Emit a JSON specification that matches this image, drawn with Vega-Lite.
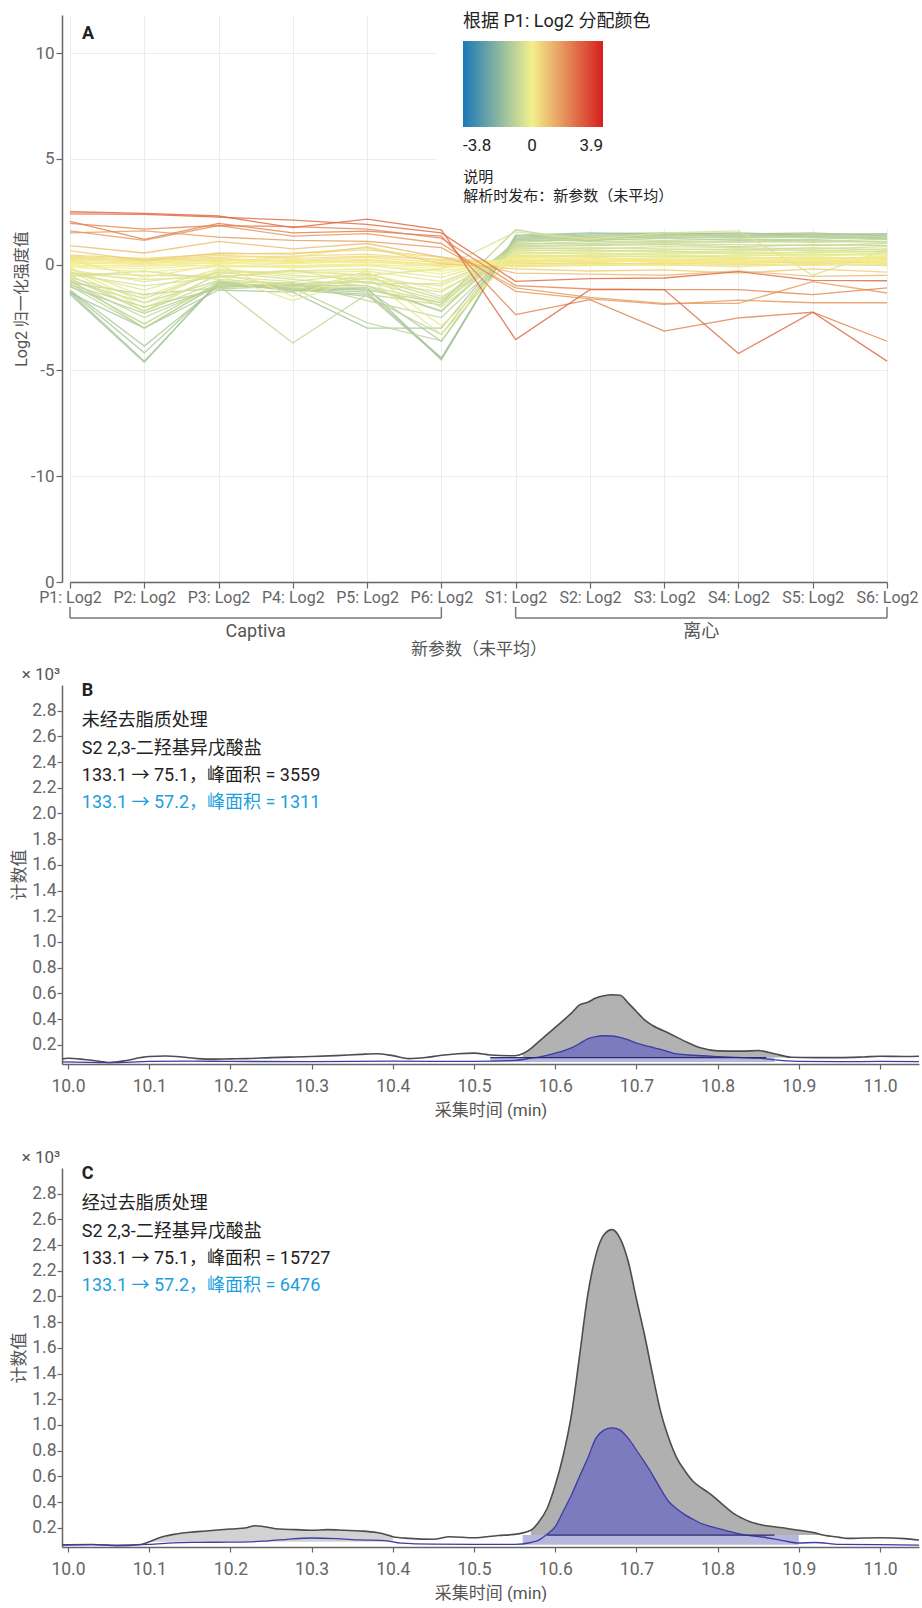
{
  "$schema": "https://vega.github.io/schema/vega-lite/v6.json",
  "background": "white",
  "padding": {"left": 10, "top": 13, "right": 0, "bottom": 0},
  "spacing": 9,
  "config": {
    "font": "Roboto, 'Noto Sans CJK SC', sans-serif",
    "view": {"stroke": null},
    "axis": {
      "titleFontWeight": "normal",
      "labelColor": "#666",
      "titleColor": "#555",
      "domainColor": "#666",
      "tickColor": "#666",
      "domainWidth": 1.5,
      "tickWidth": 1.2,
      "labelOverlap": false
    },
    "title": {"fontWeight": "normal"}
  },
  "datasets": {
    "compounds": [
      {"cmp": "t1", "P1": -1.20, "P2": -3.85, "P3": -1.00, "P4": -1.10, "P5": -1.20, "P6": -3.62, "S1": 1.25, "S2": 1.35, "S3": 1.40, "S4": 1.35, "S5": 1.40, "S6": 1.40},
      {"cmp": "t2", "P1": -1.25, "P2": -4.17, "P3": -0.90, "P4": -1.15, "P5": -1.30, "P6": -4.40, "S1": 1.30, "S2": 1.40, "S3": 1.45, "S4": 1.40, "S5": 1.45, "S6": 1.45},
      {"cmp": "t3", "P1": -1.30, "P2": -4.56, "P3": -0.85, "P4": -1.25, "P5": -1.10, "P6": -4.50, "S1": 1.35, "S2": 1.45, "S3": 1.50, "S4": 1.45, "S5": 1.50, "S6": 1.35},
      {"cmp": "t4", "P1": -1.40, "P2": -4.62, "P3": -0.80, "P4": -1.20, "P5": -1.40, "P6": -4.45, "S1": 1.40, "S2": 1.50, "S3": 1.45, "S4": 1.50, "S5": 1.40, "S6": 1.45},
      {"cmp": "t5", "P1": -1.35, "P2": -3.00, "P3": -1.20, "P4": -1.30, "P5": -3.00, "P6": -3.00, "S1": 1.20, "S2": 1.25, "S3": 1.30, "S4": 1.30, "S5": 1.35, "S6": 1.25},
      {"cmp": "n1", "P1": -0.65, "P2": -2.20, "P3": -0.80, "P4": -0.90, "P5": -0.80, "P6": -1.70, "S1": 0.90, "S2": 0.95, "S3": 1.00, "S4": 0.95, "S5": 0.90, "S6": 1.00},
      {"cmp": "n2", "P1": -0.70, "P2": -3.00, "P3": -0.90, "P4": -1.00, "P5": -1.10, "P6": -2.20, "S1": 0.95, "S2": 1.10, "S3": 1.05, "S4": 1.10, "S5": 1.05, "S6": 1.10},
      {"cmp": "n3", "P1": -0.75, "P2": -1.80, "P3": -0.75, "P4": -1.20, "P5": -0.60, "P6": -1.60, "S1": 1.00, "S2": 1.00, "S3": 1.10, "S4": 1.05, "S5": 1.15, "S6": 1.05},
      {"cmp": "n4", "P1": -0.80, "P2": -2.50, "P3": -1.00, "P4": -3.70, "P5": -1.40, "P6": -1.90, "S1": 1.05, "S2": 1.20, "S3": 1.15, "S4": 1.20, "S5": 1.10, "S6": 1.20},
      {"cmp": "n5", "P1": -0.85, "P2": -1.40, "P3": -1.10, "P4": -0.85, "P5": -1.70, "P6": -2.50, "S1": 0.85, "S2": 0.90, "S3": 0.95, "S4": 0.85, "S5": 0.95, "S6": 0.90},
      {"cmp": "n6", "P1": -0.90, "P2": -2.80, "P3": -0.85, "P4": -1.10, "P5": -2.75, "P6": -3.60, "S1": 1.10, "S2": 1.25, "S3": 1.30, "S4": 1.25, "S5": 1.30, "S6": 1.25},
      {"cmp": "n7", "P1": -0.95, "P2": -2.00, "P3": -1.15, "P4": -1.00, "P5": -1.20, "P6": -1.80, "S1": 1.65, "S2": 1.10, "S3": 1.50, "S4": 1.30, "S5": 1.40, "S6": 1.20},
      {"cmp": "n8", "P1": -1.00, "P2": -3.00, "P3": -0.95, "P4": -1.15, "P5": -1.50, "P6": -3.30, "S1": 1.20, "S2": 1.30, "S3": 1.35, "S4": 1.40, "S5": 1.30, "S6": 1.35},
      {"cmp": "n9", "P1": -1.05, "P2": -2.30, "P3": -1.05, "P4": -0.95, "P5": -1.00, "P6": -2.20, "S1": 1.15, "S2": 1.15, "S3": 1.25, "S4": 1.15, "S5": 1.20, "S6": 1.30},
      {"cmp": "lg", "P1": -0.40, "P2": -0.70, "P3": -0.60, "P4": -0.30, "P5": -0.50, "P6": -0.20, "S1": 1.55, "S2": 1.20, "S3": 1.50, "S4": 1.60, "S5": -0.50, "S6": 0.70},
      {"cmp": "g1", "P1": -0.15, "P2": -1.50, "P3": -0.30, "P4": -0.40, "P5": -0.30, "P6": -0.80, "S1": 0.45, "S2": 0.40, "S3": 0.35, "S4": 0.45, "S5": 0.40, "S6": 0.50},
      {"cmp": "g2", "P1": -0.20, "P2": -1.80, "P3": -0.25, "P4": -0.60, "P5": -0.45, "P6": -1.20, "S1": 0.50, "S2": 0.55, "S3": 0.45, "S4": 0.40, "S5": 0.50, "S6": 0.45},
      {"cmp": "g3", "P1": -0.25, "P2": -0.80, "P3": -0.40, "P4": -0.30, "P5": -0.20, "P6": -0.60, "S1": 0.40, "S2": 0.45, "S3": 0.50, "S4": 0.55, "S5": 0.45, "S6": 0.55},
      {"cmp": "g4", "P1": -0.30, "P2": -2.05, "P3": -0.50, "P4": -1.70, "P5": -0.60, "P6": -3.30, "S1": 0.60, "S2": 0.50, "S3": 0.55, "S4": 0.60, "S5": 0.55, "S6": 0.65},
      {"cmp": "g5", "P1": -0.35, "P2": -1.20, "P3": -0.20, "P4": -0.50, "P5": -0.70, "P6": -1.00, "S1": 0.55, "S2": 0.60, "S3": 0.65, "S4": 0.50, "S5": 0.60, "S6": 0.60},
      {"cmp": "g6", "P1": -0.40, "P2": -0.50, "P3": -0.55, "P4": -0.80, "P5": -0.40, "P6": -1.50, "S1": 0.35, "S2": 0.40, "S3": 0.40, "S4": 0.35, "S5": 0.30, "S6": 0.35},
      {"cmp": "g7", "P1": -0.45, "P2": -1.00, "P3": -0.60, "P4": -0.25, "P5": -0.90, "P6": -0.90, "S1": 0.65, "S2": 0.70, "S3": 0.60, "S4": 0.65, "S5": 0.70, "S6": 0.60},
      {"cmp": "g8", "P1": -0.50, "P2": -2.20, "P3": -0.45, "P4": -1.10, "P5": -0.50, "P6": -2.00, "S1": 0.70, "S2": 0.65, "S3": 0.70, "S4": 0.75, "S5": 0.65, "S6": 0.75},
      {"cmp": "g9", "P1": -0.55, "P2": -0.30, "P3": -0.70, "P4": -0.90, "P5": -0.80, "P6": -1.30, "S1": 0.75, "S2": 0.80, "S3": 0.75, "S4": 0.70, "S5": 0.80, "S6": 0.70},
      {"cmp": "g10", "P1": -0.60, "P2": -1.60, "P3": -0.35, "P4": -0.70, "P5": -1.00, "P6": -1.80, "S1": 0.80, "S2": 0.75, "S3": 0.85, "S4": 0.80, "S5": 0.75, "S6": 0.85},
      {"cmp": "y1", "P1": 0.45, "P2": 0.30, "P3": 0.50, "P4": 0.55, "P5": 0.70, "P6": 0.35, "S1": 0.05, "S2": 0.10, "S3": 0.00, "S4": 0.15, "S5": 0.05, "S6": -0.05},
      {"cmp": "y2", "P1": 0.40, "P2": 0.25, "P3": 0.35, "P4": 0.40, "P5": 0.50, "P6": 0.20, "S1": 0.10, "S2": 0.00, "S3": 0.10, "S4": 0.05, "S5": 0.15, "S6": 0.10},
      {"cmp": "y3", "P1": 0.35, "P2": 0.15, "P3": 0.45, "P4": 0.30, "P5": 0.40, "P6": 0.25, "S1": -0.05, "S2": 0.05, "S3": 0.05, "S4": 0.00, "S5": 0.00, "S6": 0.20},
      {"cmp": "y4", "P1": 0.30, "P2": 0.20, "P3": 0.25, "P4": 0.20, "P5": 0.35, "P6": 0.10, "S1": 0.20, "S2": 0.15, "S3": 0.20, "S4": 0.10, "S5": 0.25, "S6": 0.05},
      {"cmp": "y5", "P1": 0.25, "P2": 0.10, "P3": 0.30, "P4": 0.15, "P5": 0.25, "P6": 0.00, "S1": 0.15, "S2": 0.20, "S3": 0.15, "S4": 0.25, "S5": 0.10, "S6": 0.25},
      {"cmp": "y6", "P1": 0.20, "P2": 0.30, "P3": 0.15, "P4": 0.35, "P5": 0.85, "P6": 0.15, "S1": -0.10, "S2": -0.05, "S3": 0.00, "S4": -0.10, "S5": 0.05, "S6": 0.00},
      {"cmp": "y7", "P1": 0.15, "P2": 0.05, "P3": 0.20, "P4": 0.10, "P5": 0.20, "P6": -0.05, "S1": 0.25, "S2": 0.10, "S3": 0.20, "S4": 0.20, "S5": 0.15, "S6": 0.30},
      {"cmp": "y8", "P1": 0.10, "P2": 0.00, "P3": 0.10, "P4": 0.05, "P5": 0.15, "P6": -0.10, "S1": 0.05, "S2": 0.25, "S3": 0.10, "S4": 0.05, "S5": 0.20, "S6": 0.15},
      {"cmp": "y9", "P1": 0.05, "P2": 0.15, "P3": 0.05, "P4": 0.25, "P5": 0.10, "P6": 0.05, "S1": 0.00, "S2": 0.00, "S3": -0.05, "S4": 0.10, "S5": -0.05, "S6": 0.10},
      {"cmp": "y10", "P1": 0.00, "P2": -0.10, "P3": 0.10, "P4": -0.05, "P5": 0.05, "P6": -0.20, "S1": 0.30, "S2": 0.20, "S3": 0.25, "S4": 0.30, "S5": 0.20, "S6": 0.35},
      {"cmp": "y11", "P1": -0.05, "P2": -0.20, "P3": 0.00, "P4": -0.15, "P5": -0.05, "P6": -0.30, "S1": 0.20, "S2": 0.30, "S3": 0.15, "S4": 0.15, "S5": 0.30, "S6": 0.20},
      {"cmp": "y12", "P1": -0.10, "P2": -0.35, "P3": -0.10, "P4": -0.10, "P5": 0.00, "P6": -0.45, "S1": 0.35, "S2": 0.25, "S3": 0.30, "S4": 0.35, "S5": 0.25, "S6": 0.40},
      {"cmp": "y13", "P1": 0.20, "P2": -0.60, "P3": 0.00, "P4": -1.50, "P5": -0.30, "P6": -2.90, "S1": 0.40, "S2": 0.35, "S3": 0.20, "S4": 0.30, "S5": 0.35, "S6": 0.30},
      {"cmp": "o2", "P1": 0.65, "P2": 0.20, "P3": 0.55, "P4": 0.50, "P5": 0.80, "P6": 0.05, "S1": -0.20, "S2": -0.30, "S3": -0.25, "S4": -0.40, "S5": -0.20, "S6": -0.35},
      {"cmp": "o1", "P1": 0.90, "P2": 0.55, "P3": 1.10, "P4": 0.75, "P5": 1.00, "P6": 0.35, "S1": -0.40, "S2": -0.45, "S3": -0.50, "S4": -0.30, "S5": -0.55, "S6": -0.50},
      {"cmp": "r6", "P1": 1.50, "P2": 1.60, "P3": 1.30, "P4": 1.15, "P5": 1.10, "P6": 0.80, "S1": -1.10, "S2": -1.55, "S3": -1.83, "S4": -1.83, "S5": -0.80, "S6": -1.34},
      {"cmp": "r5", "P1": 1.60, "P2": 1.15, "P3": 1.85, "P4": 1.35, "P5": 1.47, "P6": 1.00, "S1": -1.26, "S2": -1.62, "S3": -1.88, "S4": -1.68, "S5": -1.80, "S6": -1.80},
      {"cmp": "r4", "P1": 1.95, "P2": 1.68, "P3": 1.85, "P4": 1.80, "P5": 1.68, "P6": 1.25, "S1": -0.99, "S2": -1.15, "S3": -1.18, "S4": -1.18, "S5": -1.42, "S6": -1.10},
      {"cmp": "r3", "P1": 2.05, "P2": 1.20, "P3": 1.95, "P4": 1.50, "P5": 1.58, "P6": 1.35, "S1": -2.36, "S2": -1.65, "S3": -3.14, "S4": -2.52, "S5": -2.25, "S6": -3.62},
      {"cmp": "r2", "P1": 2.40, "P2": 2.38, "P3": 2.25, "P4": 2.10, "P5": 1.90, "P6": 1.50, "S1": -0.79, "S2": -0.66, "S3": -0.63, "S4": -0.33, "S5": -0.74, "S6": -0.76},
      {"cmp": "r1", "P1": 2.50, "P2": 2.42, "P3": 2.30, "P4": 1.75, "P5": 2.15, "P6": 1.65, "S1": -3.54, "S2": -1.18, "S3": -1.18, "S4": -4.20, "S5": -2.25, "S6": -4.56}
    ],
    "groups": [
      {"group": "Captiva", "first": "P1", "last": "P6"},
      {"group": "离心", "first": "S1", "last": "S6"}
    ],
    "bQuant": [
      {"t": 9.993, "c": 0.09}, {"t": 10.0, "c": 0.095}, {"t": 10.02, "c": 0.085}, {"t": 10.04, "c": 0.07}, {"t": 10.05, "c": 0.062},
      {"t": 10.07, "c": 0.075}, {"t": 10.09, "c": 0.1}, {"t": 10.1, "c": 0.108}, {"t": 10.12, "c": 0.112}, {"t": 10.14, "c": 0.105},
      {"t": 10.16, "c": 0.092}, {"t": 10.18, "c": 0.088}, {"t": 10.2, "c": 0.09}, {"t": 10.22, "c": 0.092}, {"t": 10.25, "c": 0.1},
      {"t": 10.28, "c": 0.105}, {"t": 10.3, "c": 0.108}, {"t": 10.33, "c": 0.115}, {"t": 10.36, "c": 0.125}, {"t": 10.38, "c": 0.13},
      {"t": 10.4, "c": 0.115}, {"t": 10.42, "c": 0.092}, {"t": 10.44, "c": 0.1}, {"t": 10.46, "c": 0.118}, {"t": 10.48, "c": 0.13},
      {"t": 10.5, "c": 0.135}, {"t": 10.52, "c": 0.12}, {"t": 10.55, "c": 0.114}, {"t": 10.56, "c": 0.13}, {"t": 10.57, "c": 0.17},
      {"t": 10.58, "c": 0.226}, {"t": 10.59, "c": 0.28}, {"t": 10.6, "c": 0.335}, {"t": 10.61, "c": 0.39}, {"t": 10.62, "c": 0.446},
      {"t": 10.63, "c": 0.51}, {"t": 10.64, "c": 0.53}, {"t": 10.65, "c": 0.563}, {"t": 10.66, "c": 0.581}, {"t": 10.67, "c": 0.589},
      {"t": 10.68, "c": 0.585}, {"t": 10.69, "c": 0.524}, {"t": 10.7, "c": 0.459}, {"t": 10.71, "c": 0.394}, {"t": 10.72, "c": 0.35},
      {"t": 10.74, "c": 0.29}, {"t": 10.76, "c": 0.226}, {"t": 10.78, "c": 0.174}, {"t": 10.8, "c": 0.152}, {"t": 10.83, "c": 0.15},
      {"t": 10.85, "c": 0.155}, {"t": 10.87, "c": 0.13}, {"t": 10.89, "c": 0.103}, {"t": 10.92, "c": 0.1}, {"t": 10.95, "c": 0.1},
      {"t": 10.98, "c": 0.105}, {"t": 11.0, "c": 0.11}, {"t": 11.03, "c": 0.108}, {"t": 11.048, "c": 0.11}
    ],
    "bQual": [
      {"t": 9.993, "c": 0.066}, {"t": 10.05, "c": 0.06}, {"t": 10.1, "c": 0.07}, {"t": 10.15, "c": 0.073}, {"t": 10.2, "c": 0.07},
      {"t": 10.3, "c": 0.068}, {"t": 10.4, "c": 0.072}, {"t": 10.5, "c": 0.07}, {"t": 10.55, "c": 0.078}, {"t": 10.57, "c": 0.095},
      {"t": 10.59, "c": 0.118}, {"t": 10.6, "c": 0.135}, {"t": 10.61, "c": 0.152}, {"t": 10.62, "c": 0.175}, {"t": 10.63, "c": 0.21},
      {"t": 10.64, "c": 0.245}, {"t": 10.65, "c": 0.263}, {"t": 10.66, "c": 0.27}, {"t": 10.67, "c": 0.268}, {"t": 10.68, "c": 0.257},
      {"t": 10.69, "c": 0.237}, {"t": 10.7, "c": 0.212}, {"t": 10.71, "c": 0.195}, {"t": 10.72, "c": 0.18}, {"t": 10.73, "c": 0.163},
      {"t": 10.74, "c": 0.145}, {"t": 10.75, "c": 0.128}, {"t": 10.77, "c": 0.118}, {"t": 10.8, "c": 0.108}, {"t": 10.83, "c": 0.1},
      {"t": 10.85, "c": 0.096}, {"t": 10.88, "c": 0.076}, {"t": 10.9, "c": 0.07}, {"t": 10.95, "c": 0.068}, {"t": 11.0, "c": 0.07},
      {"t": 11.048, "c": 0.069}
    ],
    "cQuant": [
      {"t": 9.993, "c": 0.065}, {"t": 10.0, "c": 0.068}, {"t": 10.03, "c": 0.07}, {"t": 10.06, "c": 0.06}, {"t": 10.09, "c": 0.07},
      {"t": 10.1, "c": 0.09}, {"t": 10.11, "c": 0.117}, {"t": 10.12, "c": 0.135}, {"t": 10.13, "c": 0.148}, {"t": 10.15, "c": 0.165},
      {"t": 10.17, "c": 0.175}, {"t": 10.2, "c": 0.19}, {"t": 10.22, "c": 0.2}, {"t": 10.23, "c": 0.215}, {"t": 10.24, "c": 0.21},
      {"t": 10.26, "c": 0.19}, {"t": 10.28, "c": 0.185}, {"t": 10.3, "c": 0.18}, {"t": 10.32, "c": 0.185}, {"t": 10.34, "c": 0.18},
      {"t": 10.36, "c": 0.175}, {"t": 10.38, "c": 0.163}, {"t": 10.39, "c": 0.15}, {"t": 10.4, "c": 0.13}, {"t": 10.42, "c": 0.117},
      {"t": 10.45, "c": 0.11}, {"t": 10.47, "c": 0.13}, {"t": 10.5, "c": 0.122}, {"t": 10.53, "c": 0.14}, {"t": 10.55, "c": 0.148},
      {"t": 10.57, "c": 0.18}, {"t": 10.58, "c": 0.247}, {"t": 10.59, "c": 0.35}, {"t": 10.6, "c": 0.53}, {"t": 10.61, "c": 0.766},
      {"t": 10.62, "c": 1.08}, {"t": 10.63, "c": 1.54}, {"t": 10.64, "c": 2.01}, {"t": 10.65, "c": 2.32}, {"t": 10.66, "c": 2.48},
      {"t": 10.67, "c": 2.52}, {"t": 10.68, "c": 2.45}, {"t": 10.69, "c": 2.27}, {"t": 10.7, "c": 1.98}, {"t": 10.71, "c": 1.7},
      {"t": 10.72, "c": 1.39}, {"t": 10.73, "c": 1.1}, {"t": 10.74, "c": 0.895}, {"t": 10.75, "c": 0.74}, {"t": 10.76, "c": 0.64},
      {"t": 10.77, "c": 0.56}, {"t": 10.78, "c": 0.51}, {"t": 10.79, "c": 0.467}, {"t": 10.8, "c": 0.415}, {"t": 10.81, "c": 0.36},
      {"t": 10.82, "c": 0.31}, {"t": 10.83, "c": 0.275}, {"t": 10.84, "c": 0.247}, {"t": 10.86, "c": 0.215}, {"t": 10.88, "c": 0.2},
      {"t": 10.9, "c": 0.18}, {"t": 10.92, "c": 0.16}, {"t": 10.93, "c": 0.143}, {"t": 10.95, "c": 0.125}, {"t": 10.96, "c": 0.117},
      {"t": 10.98, "c": 0.12}, {"t": 11.0, "c": 0.122}, {"t": 11.03, "c": 0.115}, {"t": 11.048, "c": 0.104}
    ],
    "cQual": [
      {"t": 9.993, "c": 0.065}, {"t": 10.03, "c": 0.068}, {"t": 10.06, "c": 0.065}, {"t": 10.1, "c": 0.07}, {"t": 10.13, "c": 0.082},
      {"t": 10.16, "c": 0.086}, {"t": 10.2, "c": 0.088}, {"t": 10.24, "c": 0.095}, {"t": 10.27, "c": 0.11}, {"t": 10.3, "c": 0.12},
      {"t": 10.33, "c": 0.115}, {"t": 10.36, "c": 0.105}, {"t": 10.39, "c": 0.1}, {"t": 10.41, "c": 0.08}, {"t": 10.45, "c": 0.072},
      {"t": 10.5, "c": 0.07}, {"t": 10.55, "c": 0.07}, {"t": 10.57, "c": 0.085}, {"t": 10.58, "c": 0.104}, {"t": 10.59, "c": 0.15},
      {"t": 10.6, "c": 0.208}, {"t": 10.61, "c": 0.33}, {"t": 10.62, "c": 0.455}, {"t": 10.63, "c": 0.6}, {"t": 10.64, "c": 0.74},
      {"t": 10.65, "c": 0.895}, {"t": 10.66, "c": 0.96}, {"t": 10.67, "c": 0.978}, {"t": 10.68, "c": 0.96}, {"t": 10.69, "c": 0.895},
      {"t": 10.7, "c": 0.805}, {"t": 10.71, "c": 0.71}, {"t": 10.72, "c": 0.61}, {"t": 10.73, "c": 0.5}, {"t": 10.74, "c": 0.402},
      {"t": 10.75, "c": 0.345}, {"t": 10.76, "c": 0.3}, {"t": 10.77, "c": 0.265}, {"t": 10.78, "c": 0.233}, {"t": 10.79, "c": 0.212},
      {"t": 10.8, "c": 0.195}, {"t": 10.82, "c": 0.162}, {"t": 10.83, "c": 0.148}, {"t": 10.86, "c": 0.122}, {"t": 10.88, "c": 0.1},
      {"t": 10.9, "c": 0.081}, {"t": 10.92, "c": 0.085}, {"t": 10.95, "c": 0.07}, {"t": 11.0, "c": 0.068}, {"t": 11.048, "c": 0.065}
    ]
  },
  "vconcat": [
    {
      "width": 830,
      "height": 567,
      "layer": [
        {
          "data": {"name": "compounds"},
          "transform": [{"fold": ["P1", "P2", "P3", "P4", "P5", "P6", "S1", "S2", "S3", "S4", "S5", "S6"], "as": ["sample", "log2"]}],
          "mark": {"type": "line", "strokeWidth": 1.3, "strokeOpacity": 0.85},
          "encoding": {
            "x": {
              "field": "sample", "type": "nominal",
              "scale": {"type": "point", "domain": ["P1", "P2", "P3", "P4", "P5", "P6", "S1", "S2", "S3", "S4", "S5", "S6"], "range": [8, 825], "padding": 0},
              "axis": {
                "labelExpr": "datum.label + ': Log2'", "labelAngle": 0, "labelFontSize": 16, "labelPadding": 1,
                "tickSize": 6, "grid": true, "gridColor": "#ececec", "title": "新参数（未平均）",
                "titleFontSize": 17, "titlePadding": 36
              }
            },
            "y": {
              "field": "log2", "type": "quantitative",
              "scale": {"domain": [-15, 11.8], "nice": false, "zero": false},
              "axis": {
                "values": [10, 5, 0, -5, -10, -15], "tickCount": 20,
                "labelExpr": "datum.value == -15 ? '0' : replace(datum.label, '\u2212', '-')",
                "labelFontSize": 17, "labelPadding": 2, "tickSize": 6, "grid": true, "gridColor": "#ececec",
                "title": "Log2 归一化强度值", "titleFontSize": 16, "titlePadding": 1, "labelFlush": false
              }
            },
            "color": {
              "field": "P1", "type": "quantitative",
              "scale": {"domain": [-3.8, 0, 3.9], "range": ["#1b79b6", "#f3f08d", "#d61f1f"], "interpolate": "rgb"},
              "legend": {
                "orient": "none", "legendX": 401, "legendY": -2, "direction": "horizontal",
                "title": "根据 P1: Log2 分配颜色", "titleFontSize": 18, "titleFontWeight": "normal", "titleColor": "#222",
                "titlePadding": 10, "titleLimit": 400, "gradientLength": 140, "gradientThickness": 86, "gradientStrokeWidth": 0,
                "labelFontSize": 17, "labelColor": "#222", "labelOffset": 11, "labelAlign": "center", "labelOverlap": false,
                "values": [-3.8, 0, 3.9], "format": ".1~f", "labelExpr": "replace(datum.label, '\u2212', '-')", "padding": 0
              }
            },
            "detail": {"field": "cmp"}
          }
        },
        {
          "data": {"values": [{}]},
          "mark": {"type": "rect", "fill": "white", "xOffset": -5, "x2Offset": 5},
          "encoding": {"x": {"datum": "P6"}, "x2": {"datum": "S6"}, "y": {"datum": 1.7}, "y2": {"datum": 11.8}}
        },
        {
          "data": {"values": [{}]},
          "mark": {"type": "text", "text": "A", "align": "left", "baseline": "middle", "dx": 12, "fontSize": 18, "fontWeight": "bold", "color": "#222"},
          "encoding": {"x": {"datum": "P1"}, "y": {"datum": 10.88}}
        },
        {
          "data": {"values": [{}]},
          "mark": {"type": "text", "text": "说明", "align": "left", "baseline": "middle", "dx": 22, "fontSize": 15, "color": "#222"},
          "encoding": {"x": {"datum": "P6"}, "y": {"datum": 4.16}}
        },
        {
          "data": {"values": [{}]},
          "mark": {"type": "text", "text": "解析时发布：新参数（未平均）", "align": "left", "baseline": "middle", "dx": 22, "fontSize": 15, "color": "#222"},
          "encoding": {"x": {"datum": "P6"}, "y": {"datum": 3.25}}
        },
        {
          "data": {"name": "groups"},
          "mark": {"type": "rule", "color": "#777", "strokeWidth": 1.5},
          "encoding": {"x": {"field": "first", "type": "nominal"}, "x2": {"field": "last"}, "y": {"datum": -16.7}}
        },
        {
          "data": {"name": "groups"},
          "mark": {"type": "rule", "color": "#777", "strokeWidth": 1.5},
          "encoding": {"x": {"field": "first", "type": "nominal"}, "y": {"datum": -16.18}, "y2": {"datum": -16.7}}
        },
        {
          "data": {"name": "groups"},
          "mark": {"type": "rule", "color": "#777", "strokeWidth": 1.5},
          "encoding": {"x": {"field": "last", "type": "nominal"}, "y": {"datum": -16.18}, "y2": {"datum": -16.7}}
        },
        {
          "data": {"name": "groups"},
          "mark": {"type": "text", "align": "center", "baseline": "middle", "dx": 185.7, "fontSize": 18, "color": "#555"},
          "encoding": {"x": {"field": "first", "type": "nominal"}, "y": {"datum": -17.36}, "text": {"field": "group"}}
        }
      ]
    },
    {
      "width": 857,
      "height": 379,
      "title": {"text": "× 10³", "anchor": "start", "frame": "bounds", "dx": 11, "fontSize": 17, "color": "#555", "baseline": "bottom", "offset": -19},
      "layer": [
        {
          "data": {"name": "bQuant"},
          "transform": [{"filter": {"field": "t", "range": [10.555, 10.89]}}],
          "mark": {"type": "area", "fill": "#b2b2b2", "interpolate": "monotone"},
          "encoding": {
            "x": {"field": "t", "type": "quantitative", "scale": {"domain": [9.9926, 11.048], "nice": false, "zero": false},
              "axis": {"values": [10.0, 10.1, 10.2, 10.3, 10.4, 10.5, 10.6, 10.7, 10.8, 10.9, 11.0], "tickCount": 30, "format": ".1f", "labelFontSize": 17.5,
                "labelPadding": 8, "tickSize": 5, "grid": false, "labelFlush": false, "labelOverlap": false,
                "title": "采集时间 (min)", "titleFontSize": 17, "titlePadding": 8}},
            "y": {"field": "c", "type": "quantitative", "scale": {"domain": [0.05, 3.0], "nice": false, "zero": false},
              "axis": {"values": [0.2, 0.4, 0.6, 0.8, 1.0, 1.2, 1.4, 1.6, 1.8, 2.0, 2.2, 2.4, 2.6, 2.8], "tickCount": 30, "format": ".1f", "labelFontSize": 17.5,
                "labelPadding": 1, "tickSize": 5, "grid": false, "labelFlush": false, "labelOverlap": false,
                "title": "计数值", "titleFontSize": 17, "titlePadding": 3}},
            "y2": {"datum": 0.1}
          }
        },
        {
          "data": {"values": [{}]},
          "mark": {"type": "rect", "fill": "#b7b7de"},
          "encoding": {"x": {"datum": 10.52}, "x2": {"datum": 10.87}, "y": {"datum": 0.066}, "y2": {"datum": 0.1}}
        },
        {
          "data": {"name": "bQual"},
          "transform": [{"filter": {"field": "t", "range": [10.565, 10.86]}}],
          "mark": {"type": "area", "fill": "#7b7bbd", "interpolate": "monotone"},
          "encoding": {"x": {"field": "t", "type": "quantitative"}, "y": {"field": "c", "type": "quantitative"}, "y2": {"datum": 0.1}}
        },
        {
          "data": {"name": "bQuant"},
          "mark": {"type": "line", "stroke": "#4d4d4d", "strokeWidth": 1.6, "interpolate": "monotone"},
          "encoding": {"x": {"field": "t", "type": "quantitative"}, "y": {"field": "c", "type": "quantitative"}}
        },
        {
          "data": {"name": "bQual"},
          "mark": {"type": "line", "stroke": "#3c3ca6", "strokeWidth": 1.3, "interpolate": "monotone"},
          "encoding": {"x": {"field": "t", "type": "quantitative"}, "y": {"field": "c", "type": "quantitative"}}
        },
        {
          "data": {"values": [{}]},
          "mark": {"type": "rule", "stroke": "#2b2b6e", "strokeWidth": 1.3},
          "encoding": {"x": {"datum": 10.52}, "x2": {"datum": 10.86}, "y": {"datum": 0.1}}
        },
        {
          "data": {"values": [{}]},
          "mark": {"type": "text", "text": "B", "align": "left", "baseline": "middle", "fontSize": 18, "fontWeight": "bold", "color": "#222"},
          "encoding": {"x": {"datum": 10.017}, "y": {"datum": 2.95}}
        },
        {
          "data": {"values": [{}]},
          "mark": {"type": "text", "text": "未经去脂质处理", "align": "left", "baseline": "middle", "fontSize": 18, "color": "#222"},
          "encoding": {"x": {"datum": 10.017}, "y": {"datum": 2.72}}
        },
        {
          "data": {"values": [{}]},
          "mark": {"type": "text", "text": "S2 2,3-二羟基异戊酸盐", "align": "left", "baseline": "middle", "fontSize": 18, "color": "#222"},
          "encoding": {"x": {"datum": 10.017}, "y": {"datum": 2.5}}
        },
        {
          "data": {"values": [{}]},
          "mark": {"type": "text", "text": "133.1 → 75.1，峰面积 = 3559", "align": "left", "baseline": "middle", "fontSize": 18, "color": "#222"},
          "encoding": {"x": {"datum": 10.017}, "y": {"datum": 2.29}}
        },
        {
          "data": {"values": [{}]},
          "mark": {"type": "text", "text": "133.1 → 57.2，峰面积 = 1311", "align": "left", "baseline": "middle", "fontSize": 18, "color": "#1a9fe0"},
          "encoding": {"x": {"datum": 10.017}, "y": {"datum": 2.08}}
        }
      ]
    },
    {
      "width": 857,
      "height": 379,
      "title": {"text": [" ", "× 10³"], "lineHeight": 21, "anchor": "start", "frame": "bounds", "dx": 11, "fontSize": 17, "color": "#555", "baseline": "bottom", "offset": -19},
      "layer": [
        {
          "data": {"name": "cQuant"},
          "transform": [{"filter": {"field": "t", "range": [10.095, 10.41]}}],
          "mark": {"type": "area", "fill": "#d2d2d2", "interpolate": "monotone"},
          "encoding": {
            "x": {"field": "t", "type": "quantitative", "scale": {"domain": [9.9926, 11.048], "nice": false, "zero": false},
              "axis": {"values": [10.0, 10.1, 10.2, 10.3, 10.4, 10.5, 10.6, 10.7, 10.8, 10.9, 11.0], "tickCount": 30, "format": ".1f", "labelFontSize": 17.5,
                "labelPadding": 8, "tickSize": 5, "grid": false, "labelFlush": false, "labelOverlap": false,
                "title": "采集时间 (min)", "titleFontSize": 17, "titlePadding": 8}},
            "y": {"field": "c", "type": "quantitative", "scale": {"domain": [0.05, 3.0], "nice": false, "zero": false},
              "axis": {"values": [0.2, 0.4, 0.6, 0.8, 1.0, 1.2, 1.4, 1.6, 1.8, 2.0, 2.2, 2.4, 2.6, 2.8], "tickCount": 30, "format": ".1f", "labelFontSize": 17.5,
                "labelPadding": 1, "tickSize": 5, "grid": false, "labelFlush": false, "labelOverlap": false,
                "title": "计数值", "titleFontSize": 17, "titlePadding": 3}},
            "y2": {"datum": 0.09}
          }
        },
        {
          "data": {"name": "cQuant"},
          "transform": [{"filter": {"field": "t", "range": [10.565, 10.935]}}],
          "mark": {"type": "area", "fill": "#b0b0b0", "interpolate": "monotone"},
          "encoding": {"x": {"field": "t", "type": "quantitative"}, "y": {"field": "c", "type": "quantitative"}, "y2": {"datum": 0.143}}
        },
        {
          "data": {"values": [{}]},
          "mark": {"type": "rect", "fill": "#b7b7de"},
          "encoding": {"x": {"datum": 10.56}, "x2": {"datum": 10.9}, "y": {"datum": 0.068}, "y2": {"datum": 0.143}}
        },
        {
          "data": {"name": "cQual"},
          "transform": [{"filter": {"field": "t", "range": [10.588, 10.86]}}],
          "mark": {"type": "area", "fill": "#7b7bbd", "interpolate": "monotone"},
          "encoding": {"x": {"field": "t", "type": "quantitative"}, "y": {"field": "c", "type": "quantitative"}, "y2": {"datum": 0.143}}
        },
        {
          "data": {"name": "cQuant"},
          "mark": {"type": "line", "stroke": "#4d4d4d", "strokeWidth": 1.6, "interpolate": "monotone"},
          "encoding": {"x": {"field": "t", "type": "quantitative"}, "y": {"field": "c", "type": "quantitative"}}
        },
        {
          "data": {"name": "cQual"},
          "mark": {"type": "line", "stroke": "#3c3ca6", "strokeWidth": 1.3, "interpolate": "monotone"},
          "encoding": {"x": {"field": "t", "type": "quantitative"}, "y": {"field": "c", "type": "quantitative"}}
        },
        {
          "data": {"values": [{}]},
          "mark": {"type": "rule", "stroke": "#2b2b6e", "strokeWidth": 1.3},
          "encoding": {"x": {"datum": 10.59}, "x2": {"datum": 10.87}, "y": {"datum": 0.143}}
        },
        {
          "data": {"values": [{}]},
          "mark": {"type": "text", "text": "C", "align": "left", "baseline": "middle", "fontSize": 18, "fontWeight": "bold", "color": "#222"},
          "encoding": {"x": {"datum": 10.017}, "y": {"datum": 2.95}}
        },
        {
          "data": {"values": [{}]},
          "mark": {"type": "text", "text": "经过去脂质处理", "align": "left", "baseline": "middle", "fontSize": 18, "color": "#222"},
          "encoding": {"x": {"datum": 10.017}, "y": {"datum": 2.72}}
        },
        {
          "data": {"values": [{}]},
          "mark": {"type": "text", "text": "S2 2,3-二羟基异戊酸盐", "align": "left", "baseline": "middle", "fontSize": 18, "color": "#222"},
          "encoding": {"x": {"datum": 10.017}, "y": {"datum": 2.5}}
        },
        {
          "data": {"values": [{}]},
          "mark": {"type": "text", "text": "133.1 → 75.1，峰面积 = 15727", "align": "left", "baseline": "middle", "fontSize": 18, "color": "#222"},
          "encoding": {"x": {"datum": 10.017}, "y": {"datum": 2.29}}
        },
        {
          "data": {"values": [{}]},
          "mark": {"type": "text", "text": "133.1 → 57.2，峰面积 = 6476", "align": "left", "baseline": "middle", "fontSize": 18, "color": "#1a9fe0"},
          "encoding": {"x": {"datum": 10.017}, "y": {"datum": 2.08}}
        }
      ]
    }
  ]
}
